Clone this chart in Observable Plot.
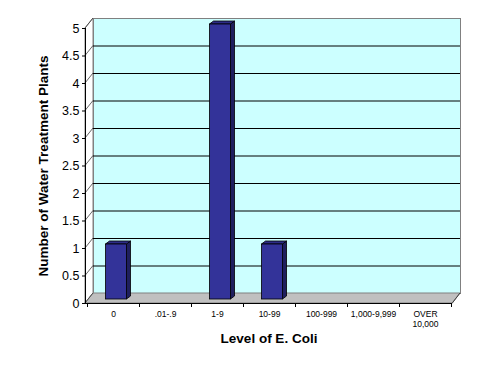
<!DOCTYPE html>
<html><head><meta charset="utf-8">
<script src="https://cdn.jsdelivr.net/npm/d3@7"></script>
<script src="https://cdn.jsdelivr.net/npm/@observablehq/plot@0.6"></script>
<style>html,body{margin:0;padding:0;background:#fff;overflow:hidden}</style>
</head><body><div id="chart"></div>
<script>
// ---- data ----
const categories = ["0", ".01-.9", "1-9", "10-99", "100-999", "1,000-9,999", "OVER\n10,000"];
const counts = [1, 0, 5, 1, 0, 0, 0];
const yTicks = [0, 0.5, 1, 1.5, 2, 2.5, 3, 3.5, 4, 4.5, 5];
const gridValues = [0.5, 1, 1.5, 2, 2.5, 3, 3.5, 4, 4.5];
const xTitle = "Level of E. Coli";
const yTitle = "Number of Water Treatment Plants";

const data = categories.map((c, i) => ({category: c, count: counts[i]}));

// ---- 3D look ----
const DX = 8, DY = -10;     // wall depth offset
const BX = 3, BY = -4;      // bar placement inside the depth
const BDX = 4, BDY = -3;    // bar depth
const INSET = 15.5;
const FONT = "Arial, 'Liberation Sans', sans-serif";

function walls(index, {x, y}, values, dims) {
  const {width, height, marginLeft: L, marginRight: R, marginTop: T, marginBottom: B} = dims;
  const x0 = L, x1 = width - R, y0 = height - B, yTop = T;
  const g = d3.create("svg:g");
  g.append("polygon")
    .attr("points", [[x0, y0], [x0, yTop], [x0 + DX, yTop + DY], [x0 + DX, y0 + DY]].join(" "))
    .attr("fill", "#ffffff").attr("stroke", "#808080").attr("stroke-width", 1);
  g.append("polygon")
    .attr("points", [[x0, y0], [x1, y0], [x1 + DX, y0 + DY], [x0 + DX, y0 + DY]].join(" "))
    .attr("fill", "#c0c0c0").attr("stroke", "#808080").attr("stroke-width", 1);
  for (const v of yTicks) {
    const yy = y(v);
    g.append("line").attr("x1", x0).attr("y1", yy).attr("x2", x0 + DX).attr("y2", yy + DY)
      .attr("stroke", "#404040").attr("stroke-width", 0.8);
  }
  return g.node();
}

function axesLines(index, {x, y}, values, dims) {
  const {width, height, marginLeft: L, marginRight: R, marginTop: T, marginBottom: B} = dims;
  const x0 = L, x1 = width - R, y0 = height - B;
  const g = d3.create("svg:g").attr("stroke", "black").attr("stroke-width", 1);
  g.append("line").attr("x1", x0 + 0.5).attr("y1", T).attr("x2", x0 + 0.5).attr("y2", y0);
  g.append("line").attr("x1", x0).attr("y1", y0 + 0.5).attr("x2", x1).attr("y2", y0 + 0.5);
  g.append("line").attr("x1", x1).attr("y1", y0 + 0.5).attr("x2", x1 + DX).attr("y2", y0 + DY)
    .attr("stroke", "#404040");
  const bw = x.bandwidth();
  const bounds = categories.map(c => x(c)).concat([x(categories[categories.length - 1]) + bw]);
  for (const bx of bounds) {
    g.append("line").attr("x1", Math.round(bx) + 0.5).attr("y1", y0).attr("x2", Math.round(bx) + 0.5).attr("y2", y0 + 4);
  }
  return g.node();
}

function barDepth(index, {x, y}, values, dims) {
  const g = d3.create("svg:g").attr("stroke", "black").attr("stroke-width", 0.8).attr("stroke-linejoin", "round");
  const bw = x.bandwidth();
  for (const d of data) {
    if (!(d.count > 0)) continue;
    const xa = x(d.category) + INSET + BX, xb = x(d.category) + bw - INSET + BX;
    const yT = y(d.count) + BY, yB = y(0) + BY;
    g.append("polygon")
      .attr("points", [[xb, yT], [xb + BDX, yT + BDY], [xb + BDX, yB + BDY], [xb, yB]].join(" "))
      .attr("fill", "#1f1f5e");
    g.append("polygon")
      .attr("points", [[xa, yT], [xa + BDX, yT + BDY], [xb + BDX, yT + BDY], [xb, yT]].join(" "))
      .attr("fill", "#2c2c88");
  }
  return g.node();
}

const chart = Plot.plot({
  width: 491,
  height: 374,
  marginLeft: 85,
  marginRight: 39,
  marginTop: 28,
  marginBottom: 71,
  style: {fontFamily: FONT, background: "white", overflow: "visible"},
  x: {type: "band", domain: categories, padding: 0},
  y: {domain: [0, 5]},
  marks: [
    Plot.frame({fill: "#ccffff", stroke: "#808080", dx: DX, dy: DY}),
    walls,
    Plot.ruleY(gridValues, {stroke: "black", strokeWidth: 1, dx: DX, dy: DY}),
    barDepth,
    Plot.barY(data.filter(d => d.count > 0), {
      x: "category", y: "count", fill: "#333399", stroke: "black", strokeWidth: 0.8,
      insetLeft: INSET, insetRight: INSET, dx: BX, dy: BY
    }),
    axesLines,
    Plot.axisY({ticks: yTicks, tickSize: 3, tickPadding: 3, fontSize: 12.5, label: null,
      tickFormat: d => String(d), stroke: "black"}),
    Plot.axisX({tickSize: 0, tickPadding: 6, fontSize: 8.5, lineHeight: 1.2, label: null}),
    Plot.text([yTitle], {frameAnchor: "left", dx: -42, rotate: -90, textAnchor: "middle",
      fontSize: 13.5, fontWeight: "bold", fill: "black"}),
    Plot.text([xTitle], {frameAnchor: "bottom", dy: 39, textAnchor: "middle",
      fontSize: 13.5, fontWeight: "bold", fill: "black"})
  ]
});
document.getElementById("chart").appendChild(chart);
</script>
</body></html>
